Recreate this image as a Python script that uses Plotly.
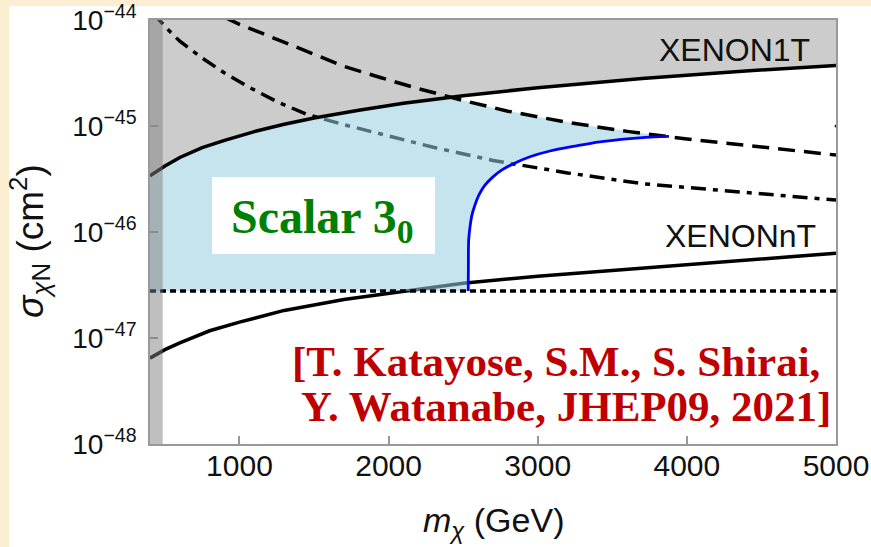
import numpy as np
import plotly.graph_objects as go

# ---- data (m_chi in GeV, sigma in cm^2) ----
mass_1t = [400, 500, 600, 750, 900, 1100, 1300, 1500, 1800, 2100, 2500, 3000, 3700, 4300, 5000]
xenon1t = [3.39e-46, 4.19e-46, 5.05e-46, 6.25e-46, 7.33e-46, 8.86e-46, 1.04e-45, 1.19e-45,
           1.41e-45, 1.64e-45, 1.93e-45, 2.30e-45, 2.81e-45, 3.24e-45, 3.73e-45]

mass_nt = [400, 500, 600, 800, 1000, 1300, 1700, 2100, 2500, 3000, 3500, 4000, 4500, 5000]
xenonnt = [6.46e-48, 7.76e-48, 9.0e-48, 1.17e-47, 1.41e-47, 1.82e-47, 2.31e-47, 2.77e-47,
           3.28e-47, 3.83e-47, 4.34e-47, 4.86e-47, 5.55e-47, 6.31e-47]

mass_dash = [900, 1000, 1150, 1300, 1500, 1700, 1950, 2200, 2500, 2800, 3200, 3600, 4000, 4500, 5000]
dashed = [1.06e-44, 9.1e-45, 7.5e-45, 6.17e-45, 4.73e-45, 3.66e-45, 2.85e-45, 2.25e-45,
          1.74e-45, 1.38e-45, 1.08e-45, 8.9e-46, 7.55e-46, 6.32e-46, 5.32e-46]

mass_dd = [420, 500, 600, 750, 900, 1050, 1250, 1450, 1700, 2000, 2300, 2700, 3200, 3700, 4300, 5000]
dashdot = [1.17e-44, 8.7e-45, 6.3e-45, 4.37e-45, 3.16e-45, 2.38e-45, 1.70e-45, 1.29e-45,
           1.03e-45, 8.0e-46, 6.3e-46, 4.73e-46, 3.61e-46, 2.86e-46, 2.44e-46, 2.0e-46]

mass_floor = [400, 5000]
floor = [2.77e-47, 2.77e-47]

mass_s3 = [2534, 2535, 2537, 2546, 2559, 2579, 2606, 2646, 2700, 2760, 2834, 2948,
           3082, 3250, 3417, 3619, 3820, 3880]
scalar3 = [2.77e-47, 5.0e-47, 8.4e-47, 1.12e-46, 1.45e-46, 1.80e-46, 2.24e-46, 2.77e-46,
           3.31e-46, 3.85e-46, 4.39e-46, 5.13e-46, 5.81e-46, 6.46e-46, 7.08e-46, 7.59e-46,
           7.94e-46, 7.98e-46]

stray_mass = [5000]
stray_sigma = [1.0e-45]

x_range = [400, 5000]
y_decades = [-48, -47, -46, -45, -44]
x_ticks = [1000, 2000, 3000, 4000, 5000]

SANS = "Liberation Sans, Arial, sans-serif"
SERIF = "Liberation Serif, Times New Roman, serif"
CREAM = "#fbeed3"

# ---- upper edge of the allowed region: min(XENON1T, dashed) ----
grid = np.linspace(x_range[0], mass_s3[-1], 600)
l1t = np.interp(grid, mass_1t, np.log10(xenon1t))
ldash = np.interp(grid, mass_dash, np.log10(dashed), left=np.inf)
upper = 10 ** np.minimum(l1t, ldash)

poly_x = ([x_range[0]] + list(grid) + list(mass_s3[::-1]) + [x_range[0]])
poly_y = ([floor[0]] + list(upper) + list(scalar3[::-1]) + [floor[0]])

LW = 3.5

fig = go.Figure()

# excluded by XENON1T (grey)
fig.add_trace(go.Scatter(
    x=mass_1t + [mass_1t[-1], mass_1t[0]],
    y=xenon1t + [10 ** y_decades[-1], 10 ** y_decades[-1]],
    fill="toself", fillcolor="#cccccc", line=dict(width=0),
    mode="lines", hoverinfo="skip", showlegend=False))

fig.add_trace(go.Scatter(x=mass_dd, y=dashdot, mode="lines",
                         line=dict(color="black", width=LW, dash="15px,7px,5px,7px"),
                         showlegend=False))
fig.add_trace(go.Scatter(x=mass_nt, y=xenonnt, mode="lines",
                         line=dict(color="black", width=LW), showlegend=False))

# allowed Scalar 3_0 region (translucent light blue)
fig.add_trace(go.Scatter(x=poly_x, y=poly_y, fill="toself",
                         fillcolor="rgba(150,205,222,0.55)", line=dict(width=0),
                         mode="lines", hoverinfo="skip", showlegend=False))

fig.add_trace(go.Scatter(x=mass_floor, y=floor, mode="lines",
                         line=dict(color="black", width=LW, dash="6px,4px"),
                         showlegend=False))
fig.add_trace(go.Scatter(x=mass_dash, y=dashed, mode="lines",
                         line=dict(color="black", width=LW, dash="17px,9px"),
                         showlegend=False))
fig.add_trace(go.Scatter(x=mass_1t, y=xenon1t, mode="lines",
                         line=dict(color="black", width=LW), showlegend=False))
fig.add_trace(go.Scatter(x=mass_s3, y=scalar3, mode="lines", line_shape="spline",
                         line=dict(color="#0000ff", width=2.8), showlegend=False))
fig.add_trace(go.Scatter(x=stray_mass, y=stray_sigma, mode="markers",
                         marker=dict(color="#0000ff", size=3), cliponaxis=False,
                         showlegend=False))

PL, PR, PT, PB = 150, 35, 20, 103
W, H = 871, 547
pw, ph = W - PL - PR, H - PT - PB


def px(x):
    return (x - PL) / pw


def py(y):
    return (H - PB - y) / ph


shapes = [
    # white slide panel
    dict(type="rect", xref="paper", yref="paper", x0=px(9), x1=px(880), y0=py(560), y1=py(6),
         fillcolor="white", line=dict(width=0), layer="below"),
    # low-mass vertical band
    dict(type="rect", xref="x", yref="paper", x0=x_range[0], x1=485, y0=0, y1=1,
         fillcolor="rgba(128,128,128,0.5)", line=dict(width=0), layer="above"),
    # white box behind the model label
    dict(type="rect", xref="paper", yref="paper", x0=px(212), x1=px(435), y0=py(254), y1=py(177),
         fillcolor="white", line=dict(width=0), layer="above"),
]

annotations = [
    dict(text="XENON1T", x=px(812), y=py(50), xref="paper", yref="paper",
         xanchor="right", yanchor="middle", showarrow=False,
         font=dict(family=SANS, size=32, color="#111111")),
    dict(text="XENONnT", x=px(818), y=py(236), xref="paper", yref="paper",
         xanchor="right", yanchor="middle", showarrow=False,
         font=dict(family=SANS, size=32, color="#111111")),
    dict(text="Scalar 3<sub>0</sub>", x=px(322), y=py(220), xref="paper", yref="paper",
         xanchor="center", yanchor="middle", showarrow=False,
         font=dict(family=SERIF, size=48, color="#008000", weight="bold")),
    dict(text="[T. Katayose, S.M., S. Shirai,", x=px(290), y=py(361), xref="paper", yref="paper",
         xanchor="left", yanchor="middle", showarrow=False,
         font=dict(family=SERIF, size=43, color="#c00000", weight="bold")),
    dict(text="Y. Watanabe, JHEP09, 2021]", x=px(299), y=py(406), xref="paper", yref="paper",
         xanchor="left", yanchor="middle", showarrow=False,
         font=dict(family=SERIF, size=43, color="#c00000", weight="bold")),
    dict(text="<i>m</i><sub><i>χ</i></sub> (GeV)", x=0.5, y=py(522), xref="paper", yref="paper",
         xanchor="center", yanchor="middle", showarrow=False,
         font=dict(family=SANS, size=34, color="#111111")),
    dict(text="<i>σ</i><sub><i>χ</i>N</sub> (cm<sup>2</sup>)", x=px(29), y=py(241),
         xref="paper", yref="paper", textangle=-90,
         xanchor="center", yanchor="middle", showarrow=False,
         font=dict(family=SANS, size=37, color="#111111")),
]

fig.update_layout(
    width=W, height=H, autosize=False,
    margin=dict(l=PL, r=PR, t=PT, b=PB, pad=0, autoexpand=False),
    paper_bgcolor=CREAM, plot_bgcolor="white",
    shapes=shapes, annotations=annotations, showlegend=False,
)
fig.update_xaxes(
    range=x_range, tickvals=x_ticks, ticktext=[str(v) for v in x_ticks],
    ticks="inside", ticklen=8, tickwidth=1.5, tickcolor="#999999",
    showline=True, linecolor="#999999", linewidth=1.5, mirror=True,
    showgrid=False, zeroline=False, ticklabelstandoff=-6, automargin=False,
    tickfont=dict(family=SANS, size=30, color="#111111"),
)
fig.update_yaxes(
    type="log", range=[y_decades[0], y_decades[-1]],
    tickvals=[10.0 ** d for d in y_decades],
    ticktext=["10<sup>\u2212%d</sup>" % (-d) for d in y_decades],
    ticks="inside", ticklen=8, tickwidth=1.5, tickcolor="#999999",
    showline=True, linecolor="#999999", linewidth=1.5, mirror=True,
    showgrid=False, zeroline=False, ticklabelstandoff=6, automargin=False,
    tickfont=dict(family=SANS, size=28, color="#111111"),
)

fig.write_html("out.html")
